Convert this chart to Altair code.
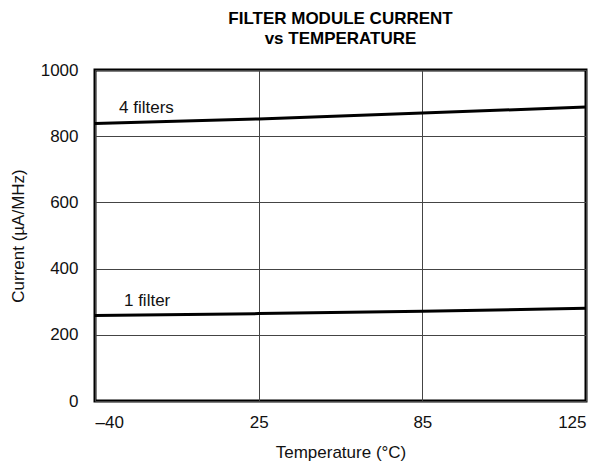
import altair as alt
import pandas as pd

temps = ["–40", "25", "85", "125"]
idx = [0, 1, 2, 3]
four_filters = [838, 852, 870, 888]
one_filter = [258, 264, 271, 280]

rows = []
for i, v in zip(idx, four_filters):
    rows.append({"i": i, "current": v, "series": "4 filters"})
for i, v in zip(idx, one_filter):
    rows.append({"i": i, "current": v, "series": "1 filter"})
df = pd.DataFrame(rows)

labels = pd.DataFrame({"i": [0.147, 0.177], "current": [886, 301], "text": ["4 filters", "1 filter"]})

label_expr = "datum.value == 0 ? '–40' : datum.value == 1 ? '25' : datum.value == 2 ? '85' : '125'"

x = alt.X("i:Q", scale=alt.Scale(domain=[0, 3], nice=False),
          axis=alt.Axis(values=[0, 1, 2, 3], labelExpr=label_expr, title="Temperature (°C)",
                        grid=True, ticks=False, domain=False, labelPadding=13, titlePadding=14))
y = alt.Y("current:Q", scale=alt.Scale(domain=[0, 1000], nice=False),
          axis=alt.Axis(values=[0, 200, 400, 600, 800, 1000], format="d", title="Current (µA/MHz)",
                        grid=True, ticks=False, domain=False, labelPadding=17, titlePadding=13))

lines = alt.Chart(df).mark_line(color="black", strokeWidth=3).encode(x=x, y=y, detail="series:N")
text = alt.Chart(labels).mark_text(align="left", baseline="middle", fontSize=17, color="#111",
                                   font="Liberation Sans").encode(x="i:Q", y="current:Q", text="text:N")

chart = (lines + text).properties(
    width=491, height=331,
    autosize=alt.AutoSizeParams(type="none"),
    padding={"left": 87, "top": 62, "right": 8, "bottom": 64},
    title=alt.TitleParams(["FILTER MODULE CURRENT", "vs TEMPERATURE"], anchor="middle",
                          fontSize=17, font="Liberation Sans", fontWeight="bold",
                          offset=13, lineHeight=20, color="black"),
).configure_view(stroke="black", strokeWidth=3).configure_axis(
    labelFont="Liberation Sans", titleFont="Liberation Sans", labelFontSize=17,
    titleFontSize=17, titleFontWeight="normal", labelColor="#111", titleColor="#111",
    gridColor="#444", gridWidth=1, gridOpacity=1
)

chart.save("out.html", embed_options={"renderer": "svg", "actions": False})
